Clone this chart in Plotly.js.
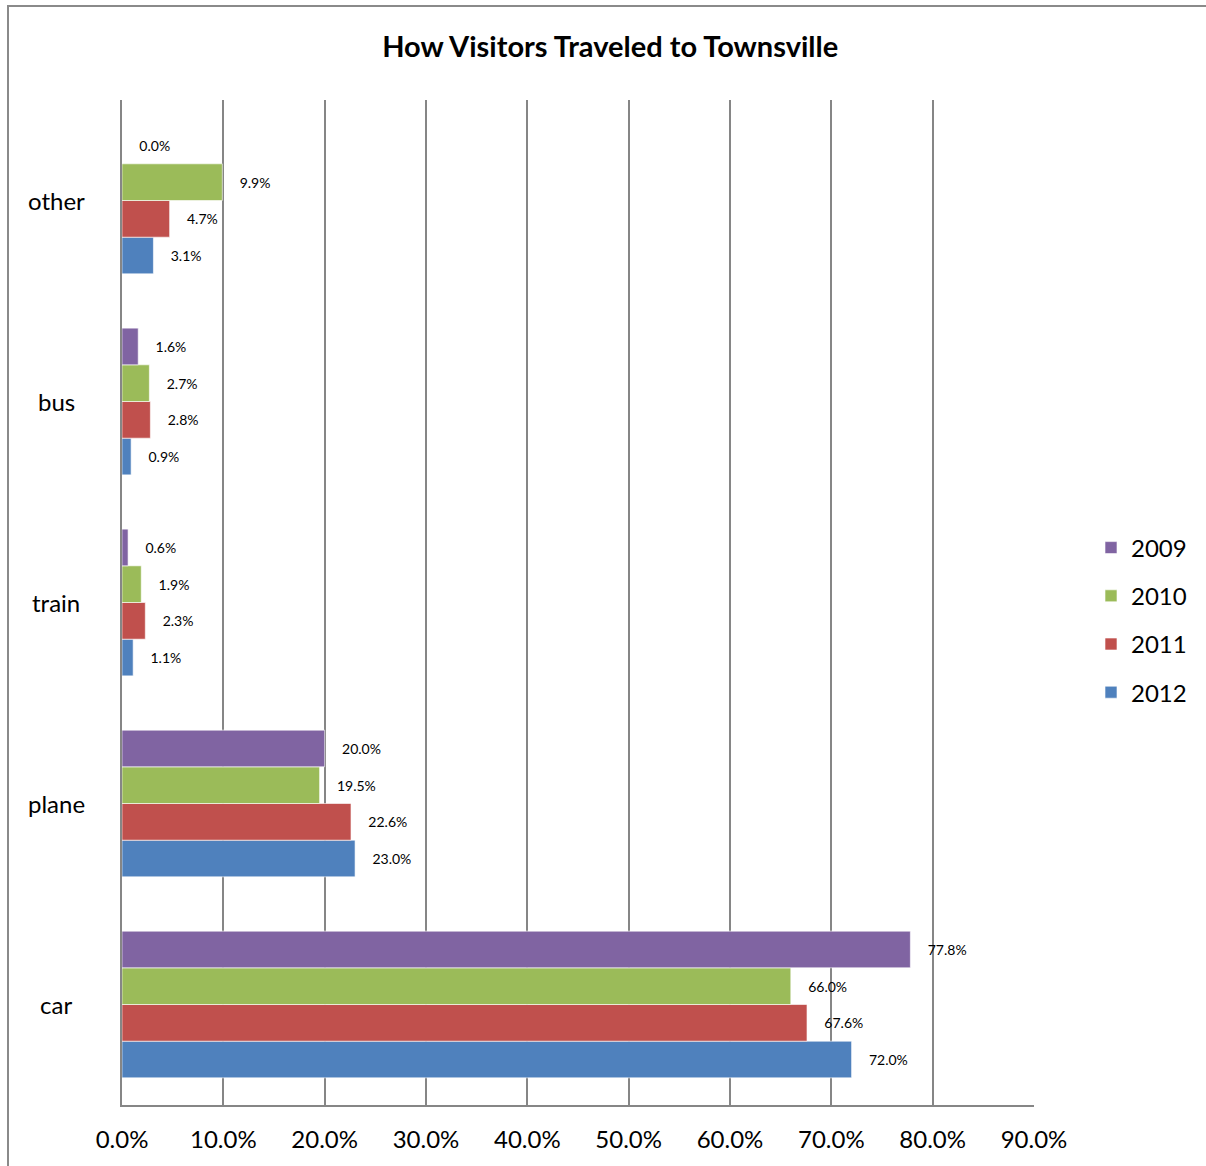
<!DOCTYPE html>
<html>
<head>
<meta charset="utf-8">
<script src="https://cdn.plot.ly/plotly-3.0.1.min.js"></script>
<style>
html,body{margin:0;padding:0;background:#fff;}
#chart{width:1206px;height:1166px;}
</style>
</head>
<body>
<div id="chart"></div>
<script>
const categories = ["car", "plane", "train", "bus", "other"];
const years = ["2012", "2011", "2010", "2009"];
const v2009 = [77.8, 20.0, 0.6, 1.6, 0.0];
const v2010 = [66.0, 19.5, 1.9, 2.7, 9.9];
const v2011 = [67.6, 22.6, 2.3, 2.8, 4.7];
const v2012 = [72.0, 23.0, 1.1, 0.9, 3.1];
const tickVals = [0, 10, 20, 30, 40, 50, 60, 70, 80, 90];

const seriesValues = [v2012, v2011, v2010, v2009];
const colors = ["#4F81BD", "#C0504D", "#9BBB59", "#8064A2"];
const FONT = "Lato, Carlito, Calibri, sans-serif";
const pad = "\u00a0\u00a0\u00a0\u00a0";

const traces = years.map((yr, i) => ({
  type: "bar",
  orientation: "h",
  name: yr,
  legendgroup: yr,
  legendrank: 1000 - i,
  y: categories,
  x: seriesValues[i],
  marker: {color: colors[i], line: {color: "rgba(255,255,255,0.6)", width: 1}},
  text: seriesValues[i].map(v => pad + v.toFixed(1) + "%"),
  textposition: "outside",
  textfont: {family: FONT, size: 14, color: "#000"},
  cliponaxis: false,
  hoverinfo: "skip"
}));

const catLabels = categories.map(c => ({
  xref: "paper", yref: "y",
  x: (56 - 122) / 912, xanchor: "center",
  y: c, yanchor: "middle",
  text: c, showarrow: false,
  font: {family: FONT, size: 24, color: "#000"}
}));

const layout = {
  width: 1206, height: 1166,
  margin: {l: 122, r: 172, t: 100, b: 61, autoexpand: false},
  paper_bgcolor: "#fff", plot_bgcolor: "#fff",
  font: {family: FONT, color: "#000"},
  barmode: "group",
  bargap: 0.27,
  bargroupgap: 0,
  title: {
    text: "<b>How Visitors Traveled to Townsville</b>",
    font: {family: FONT, size: 29, color: "#000"},
    x: 0.506, xanchor: "center", xref: "container",
    y: 1 - 47/1166, yanchor: "middle", yref: "container"
  },
  xaxis: {
    range: [0, 90],
    tickvals: tickVals,
    ticktext: tickVals.map(v => v.toFixed(1) + "%"),
    showgrid: true, gridcolor: "#868686", gridwidth: 2,
    showline: true, linecolor: "#868686", linewidth: 2,
    zeroline: false,
    ticks: "",
    ticklabelstandoff: 12,
    tickfont: {family: FONT, size: 24, color: "#000"},
    fixedrange: true
  },
  yaxis: {
    showgrid: false,
    showline: true, linecolor: "#868686", linewidth: 2,
    ticks: "",
    showticklabels: false,
    fixedrange: true
  },
  annotations: catLabels,
  showlegend: true,
  legend: {
    traceorder: "grouped",
    x: (1091 - 122) / 912, xanchor: "left",
    y: (1105 - 620) / 1005, yanchor: "middle",
    font: {family: FONT, size: 24, color: "#000"},
    tracegroupgap: 14,
    bgcolor: "rgba(0,0,0,0)"
  },
  shapes: [{
    type: "rect", xref: "paper", yref: "paper",
    x0: (8 - 122) / 912, x1: (1215 - 122) / 912,
    y0: (1105 - 1175) / 1005, y1: (1105 - 6) / 1005,
    line: {color: "#8a8a8a", width: 2}, fillcolor: "rgba(0,0,0,0)", layer: "below"
  }]
};

Plotly.newPlot("chart", traces, layout, {displayModeBar: false, staticPlot: true});
</script>
</body>
</html>
